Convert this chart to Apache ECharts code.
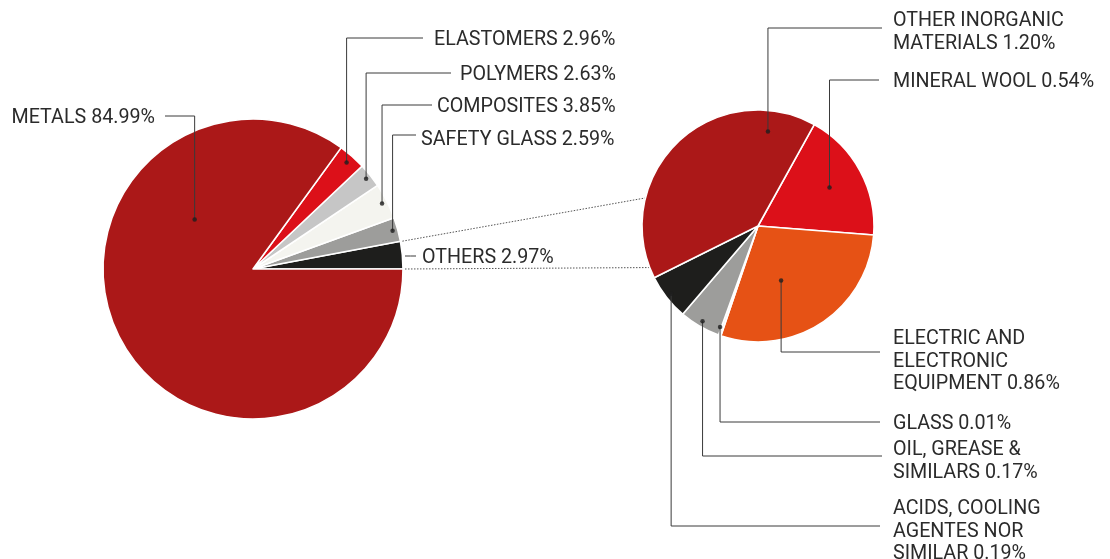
<!DOCTYPE html>
<html><head><meta charset="utf-8">
<script src="https://cdn.jsdelivr.net/npm/echarts@6/dist/echarts.min.js"></script>
<style>html,body{margin:0;padding:0;background:#fff}#c{width:1110px;height:559px}</style>
</head><body><div id="c"></div>
<script>
// ---- data ----
const mainNames = ['OTHERS', 'SAFETY GLASS', 'COMPOSITES', 'POLYMERS', 'ELASTOMERS', 'METALS'];
const mainValues = [2.97, 2.59, 3.85, 2.63, 2.96, 84.99];
const othersNames = ['MINERAL WOOL', 'ELECTRIC AND\nELECTRONIC\nEQUIPMENT', 'GLASS', 'OIL, GREASE &\nSIMILARS', 'ACIDS, COOLING\nAGENTES NOR\nSIMILAR', 'OTHER INORGANIC\nMATERIALS'];
const othersValues = [0.54, 0.86, 0.01, 0.17, 0.19, 1.20];

// ---- styles / layout ----
const mainColors = ['#1e1e1c', '#9d9d9b', '#f4f4ef', '#c6c6c6', '#dc1019', '#ab1818'];
const othersColors = ['#dc1019', '#e65215', '#ececec', '#9d9d9b', '#1e1e1c', '#ab1818'];
const GL = { cx: 253, cy: 269, r: 150, start: 0, cw: false };
const GR = { cx: 758, cy: 226, r: 116, start: 61, cw: true };
const mainAnno = [
  { dot: false, tx: 422, ty: 247, ly: 256, lx0: 405, lx1: 416 },
  { rf: 0.965, tx: 421, ty: 129, ly: 135, lx1: 416 },
  { rf: 0.965, tx: 437, ty: 96, ly: 105, lx1: 432 },
  { rf: 0.965, tx: 460, ty: 64, ly: 73, lx1: 451 },
  { rf: 0.945, tx: 434, ty: 29, ly: 38, lx1: 423 },
  { rf: 0.51, ang: 139.7, tx: 155, ty: 107, ly: 116, lx1: 165, align: 'right' }
];
const othersAnno = [
  { rf: 0.70, tx: 893, ty: 71, ly: 80, lx1: 879 },
  { rf: 0.51, ang: -67, tx: 893, ty: 328, ly: 352, lx1: 880 },
  { rf: 0.93, ang: -110.6, tx: 893, ty: 413, ly: 422, lx1: 880 },
  { rf: 0.95, tx: 893, ty: 439, ly: 456, lx1: 882 },
  { rf: 0.95, tx: 893, ty: 498, ly: 526, lx1: 880 },
  { rf: 0.82, ang: 84, tx: 893, ty: 10, ly: 28, lx1: 882 }
];
const connectorTo = [166, 201];

function sum(a) { return a.reduce((s, v) => s + v, 0); }
function midAngles(vals, g) {
  const tot = sum(vals); let cum = 0;
  return vals.map(v => { const a = g.start + (g.cw ? -1 : 1) * 360 * (cum + v / 2) / tot; cum += v; return a; });
}
function pt(g, ang, rf) {
  const t = ang * Math.PI / 180;
  return [g.cx + g.r * rf * Math.cos(t), g.cy - g.r * rf * Math.sin(t)];
}
const mainMid = midAngles(mainValues, GL);
const othersMid = midAngles(othersValues, GR);
const othersSpanAngle = 360 * mainValues[0] / sum(mainValues);

function fmt(names, vals) {
  return p => names[p.dataIndex] + ' ' + vals[p.dataIndex].toFixed(2) + '%';
}
function layoutFn(anno, mids, g) {
  return params => {
    const i = params.dataIndex, a = anno[i];
    let pts;
    if (a.dot === false) {
      pts = [[a.lx0, a.ly], [(a.lx0 + a.lx1) / 2, a.ly], [a.lx1, a.ly]];
    } else {
      const p = pt(g, a.ang != null ? a.ang : mids[i], a.rf);
      pts = [[p[0], p[1]], [p[0], a.ly], [a.lx1, a.ly]];
    }
    return { x: a.tx, y: a.ty, align: a.align || 'left', verticalAlign: 'top', labelLinePoints: pts };
  };
}
function dots(anno, mids) {
  const out = [];
  anno.forEach((a, i) => {
    if (a.dot === false) return;
    let ang = a.ang != null ? a.ang : mids[i];
    ang = ((ang % 360) + 360) % 360;
    out.push([a.rf, ang]);
  });
  return out;
}
const labelStyle = { fontFamily: 'Roboto', fontSize: 19.7, color: '#2b2b2b', lineHeight: 22.5 };
const lineStyle = { color: '#3a3a3a', width: 1 };
function pieSeries(names, vals, colors, g) {
  return {
    type: 'pie', z: 2, center: [g.cx, g.cy], radius: g.r, startAngle: g.start, clockwise: g.cw,
    silent: true, label: { show: false }, labelLine: { show: false },
    itemStyle: { borderColor: '#fff', borderWidth: 1.6 },
    emphasis: { disabled: true },
    data: vals.map((v, i) => ({ name: names[i], value: v, itemStyle: { color: colors[i] } }))
  };
}
function labelPie(names, vals, g, anno, mids) {
  return {
    type: 'pie', z: 5, center: [g.cx, g.cy], radius: g.r, startAngle: g.start, clockwise: g.cw,
    avoidLabelOverlap: false, silent: true,
    itemStyle: { color: 'rgba(0,0,0,0)', borderWidth: 0 },
    label: Object.assign({ show: true, position: 'outside', formatter: fmt(names, vals) }, labelStyle),
    labelLine: { show: true, length: 10, length2: 10, smooth: false, lineStyle: lineStyle },
    labelLayout: layoutFn(anno, mids, g),
    emphasis: { disabled: true },
    data: vals.map((v, i) => ({ name: names[i], value: v }))
  };
}
const hiddenAngle = { type: 'value', min: 0, max: 360, startAngle: 0, clockwise: false, show: false };
const hiddenRadius = { type: 'value', min: 0, max: 1, show: false };
const c1 = pt(GL, othersSpanAngle, 1), c2 = pt(GR, connectorTo[0], 1);
const c3 = pt(GL, 0, 1), c4 = pt(GR, connectorTo[1], 1);
const dashStyle = { stroke: '#555', lineWidth: 1, lineDash: [1.5, 1.5] };

const chart = echarts.init(document.getElementById('c'), null, { renderer: 'canvas' });
chart.setOption({
  animation: false,
  backgroundColor: '#fff',
  polar: [{ center: [GL.cx, GL.cy], radius: GL.r }, { center: [GR.cx, GR.cy], radius: GR.r }],
  angleAxis: [Object.assign({ polarIndex: 0 }, hiddenAngle), Object.assign({ polarIndex: 1 }, hiddenAngle)],
  radiusAxis: [Object.assign({ polarIndex: 0 }, hiddenRadius), Object.assign({ polarIndex: 1 }, hiddenRadius)],
  graphic: [
    { type: 'line', z: 1, shape: { x1: c1[0] + 2, y1: c1[1], x2: c2[0], y2: c2[1] }, style: dashStyle },
    { type: 'line', z: 1, shape: { x1: c3[0] + 2, y1: c3[1], x2: c4[0], y2: c4[1] }, style: dashStyle }
  ],
  series: [
    pieSeries(mainNames, mainValues, mainColors, GL),
    pieSeries(othersNames, othersValues, othersColors, GR),
    labelPie(mainNames, mainValues, GL, mainAnno, mainMid),
    labelPie(othersNames, othersValues, GR, othersAnno, othersMid),
    { type: 'scatter', coordinateSystem: 'polar', polarIndex: 0, symbolSize: 4.5, z: 10, silent: true,
      itemStyle: { color: '#1e1e1e' }, data: dots(mainAnno, mainMid) },
    { type: 'scatter', coordinateSystem: 'polar', polarIndex: 1, symbolSize: 4.5, z: 10, silent: true,
      itemStyle: { color: '#1e1e1e' }, data: dots(othersAnno, othersMid) }
  ]
});
</script></body></html>
